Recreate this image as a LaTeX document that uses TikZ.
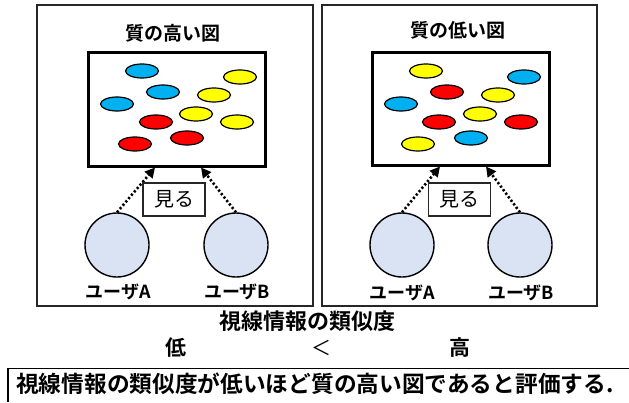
\documentclass[tikz,border=0pt]{standalone}
\usepackage{fontspec}
\setmainfont{Noto Sans CJK JP}[BoldFont={Noto Sans CJK JP Bold}]
\usetikzlibrary{arrows.meta,shapes.geometric}
\definecolor{cblue}{HTML}{00B0F0}
\definecolor{cyel}{HTML}{FFFF00}
\definecolor{cred}{HTML}{FF0000}
\definecolor{cuser}{HTML}{DAE3F3}
\tikzset{
  panel/.style={draw=black!85, line width=1.4pt},
  figbox/.style={draw=black, line width=3pt},
  dot/.style={ellipse, draw=black, line width=1.2pt, minimum width=33pt, minimum height=14pt, inner sep=0pt},
  bdot/.style={dot, fill=cblue},
  ydot/.style={dot, fill=cyel},
  rdot/.style={dot, fill=cred},
  user/.style={circle, draw=black, line width=1.4pt, fill=cuser, minimum size=64pt, inner sep=0pt},
  lbl/.style={font=\bfseries\fontsize{18}{20}\selectfont, inner sep=0pt},
  ttl/.style={font=\bfseries\fontsize{19}{21}\selectfont, inner sep=0pt},
  big/.style={font=\bfseries\fontsize{22}{24}\selectfont, inner sep=0pt},
  seebox/.style={draw=black!85, line width=1.2pt, fill=white, minimum width=62pt, minimum height=33pt, inner sep=0pt, font=\fontsize{20}{22}\selectfont},
  look/.style={line width=2.6pt, dash pattern=on 2.2pt off 2.2pt, -{Triangle[length=10pt,width=10pt]}}
}
\begin{document}
\begin{tikzpicture}[x=1pt,y=-1pt]
\useasboundingbox (0,0) rectangle (629,402);
% panels
\draw[panel] (37,5) rectangle (313,306);
\draw[panel] (322,5) rectangle (597,306);
\node[ttl] (t1) at (173,33.5) {質の高い図};
\node[ttl] (t2) at (458,30) {質の低い図};
% figure boxes
\draw[figbox] (88,52) rectangle (265,166);
\draw[figbox] (372,52) rectangle (549,165);
% left dots
\node[bdot] (l1) at (142,71) {};
\node[bdot] (l2) at (163,92) {};
\node[bdot] (l3) at (117,104) {};
\node[ydot] (l4) at (240,77) {};
\node[ydot] (l5) at (214,95) {};
\node[ydot] (l6) at (196,114) {};
\node[ydot] (l7) at (237,122) {};
\node[rdot] (l8) at (156,122) {};
\node[rdot] (l9) at (187,138) {};
\node[rdot] (l10) at (135,144) {};
% right dots
\node[ydot] (r1) at (426,71) {};
\node[bdot] (r2) at (524,77) {};
\node[rdot] (r3) at (447,92) {};
\node[ydot] (r4) at (498,95) {};
\node[bdot] (r5) at (401,104) {};
\node[ydot] (r6) at (480,114) {};
\node[rdot] (r7) at (439,122) {};
\node[rdot] (r8) at (521,122) {};
\node[bdot] (r9) at (471,138) {};
\node[ydot] (r10) at (418,144) {};
% users
\node[user] (la) at (117,245) {};
\node[user] (lb) at (236,245) {};
\node[user] (ra) at (402,245) {};
\node[user] (rb) at (520,245) {};
\node[lbl] (lat) at (118,292) {ユーザA};
\node[lbl] (lbt) at (237,292) {ユーザB};
\node[lbl] (rat) at (402,293) {ユーザA};
\node[lbl] (rbt) at (521,293) {ユーザB};
% arrow targets
\coordinate (lta) at (155,167.5);
\coordinate (ltb) at (201,167.5);
\coordinate (rta) at (440,166.5);
\coordinate (rtb) at (486,166.5);
\draw[look] (la.north) -- (lta);
\draw[look] (lb.north) -- (ltb);
\draw[look] (ra.north) -- (rta);
\draw[look] (rb.north) -- (rtb);
\node[seebox] (s1) at (174,199.5) {見る};
\node[seebox] (s2) at (459.5,199.5) {見る};
% bottom
\node[big] (sim) at (307,321) {視線情報の類似度};
\node[inner sep=0pt, font=\bfseries\fontsize{21}{23}\selectfont] (lo) at (176,348) {低};
\node[inner sep=0pt, font=\fontsize{20}{22}\selectfont] (lt) at (321,348) {＜};
\node[inner sep=0pt, font=\bfseries\fontsize{21}{23}\selectfont] (hi) at (460,348) {高};
\draw[line width=1.4pt] (629,368.5) -- (8,368.5) -- (8,402);
\node[anchor=west, inner sep=0pt, font=\bfseries\fontsize{22.7}{25}\selectfont] (concl) at (16,384) {視線情報の類似度が低いほど質の高い図であると評価する.};
\end{tikzpicture}
\end{document}
